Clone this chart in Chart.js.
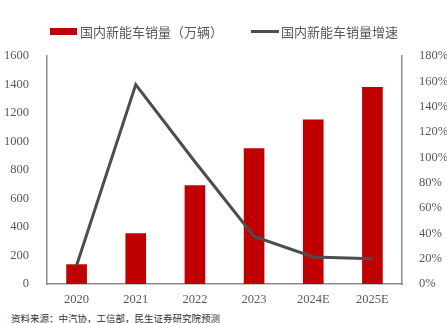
<!DOCTYPE html>
<html>
<head>
<meta charset="utf-8">
<script src="https://cdn.jsdelivr.net/npm/chart.js@4"></script>
<style>
  html, body { margin: 0; padding: 0; background: #fff; }
  #wrap { position: relative; width: 447px; height: 323px; }
  #box { position: absolute; left: 0; top: 0; width: 447px; height: 307px; }
  .legend { position: absolute; top: 20px; left: 50px; font: 13px "Noto Sans CJK SC", sans-serif; color: #595959; white-space: nowrap; }
  .legend span { display: inline-block; vertical-align: middle; }
  .swatch-bar { width: 27px; height: 7px; background: #c00000; margin-right: 3px; }
  .swatch-line { width: 28px; height: 3px; background: #4d4d4d; margin-left: 28px; margin-right: 2px; }
  .source { position: absolute; left: 11px; top: 311px; font: 9.5px "Noto Sans CJK SC", sans-serif; color: #333; white-space: nowrap; }
</style>
</head>
<body>
<div id="wrap">
  <div id="box"><canvas id="salesChart"></canvas></div>
  <div class="legend">
    <span class="swatch-bar"></span><span>国内新能车销量（万辆）</span><span class="swatch-line"></span><span>国内新能车销量增速</span>
  </div>
  <div class="source">资料来源：中汽协，工信部，民生证券研究院预测</div>
</div>
<script>
const years = ['2020', '2021', '2022', '2023', '2024E', '2025E'];
const sales = [136, 353, 690, 950, 1152, 1380];      // 万辆
const growth = [14.6, 157.4, 96.5, 37.6, 21.3, 20.0]; // %

const leftTicks = [0, 200, 400, 600, 800, 1000, 1200, 1400, 1600];
const rightTicks = [0, 20, 40, 60, 80, 100, 120, 140, 160, 180];

const tickFont = { family: '"Liberation Serif", "Times New Roman", serif', size: 12.5 };
const tickColor = '#595959';
const axisColor = '#8c8c8c';

const ctx = document.getElementById('salesChart').getContext('2d');
new Chart(ctx, {
    type: 'bar',
    data: {
        labels: years,
        datasets: [
            {
                type: 'line', label: '国内新能车销量增速', data: growth, yAxisID: 'y1',
                borderColor: '#4d4d4d', backgroundColor: '#4d4d4d', borderWidth: 3,
                pointRadius: 0, tension: 0, order: 0,
            },
            {
                label: '国内新能车销量（万辆）', data: sales, yAxisID: 'y',
                backgroundColor: '#c00000', barThickness: 20, order: 1,
            },
        ],
    },
    options: {
        responsive: true,
        maintainAspectRatio: false,
        animation: false,
        layout: { padding: { top: 56, left: 4, right: 0, bottom: 0 } },
        plugins: { legend: { display: false }, tooltip: { enabled: false } },
        scales: {
            x: {
                grid: { display: false },
                border: { display: true, color: axisColor, width: 1.5 },
                ticks: { font: tickFont, color: tickColor, padding: 0 },
            },
            y: {
                position: 'left', min: 0, max: 1600,
                afterBuildTicks: (s) => { s.ticks = leftTicks.map((v) => ({ value: v })); },
                afterFit: (s) => { s.width = 43; },
                grid: { display: false },
                border: { display: true, color: axisColor, width: 1.5 },
                ticks: { font: tickFont, color: tickColor, padding: 10, callback: (v) => String(v) },
            },
            y1: {
                position: 'right', min: 0, max: 180,
                afterBuildTicks: (s) => { s.ticks = rightTicks.map((v) => ({ value: v })); },
                afterFit: (s) => { s.width = 45; },
                grid: { display: false },
                border: { display: true, color: axisColor, width: 1.5 },
                ticks: { font: tickFont, color: tickColor, padding: 9, callback: (v) => v + '%' },
            },
        },
    },
});
</script>
</body>
</html>
